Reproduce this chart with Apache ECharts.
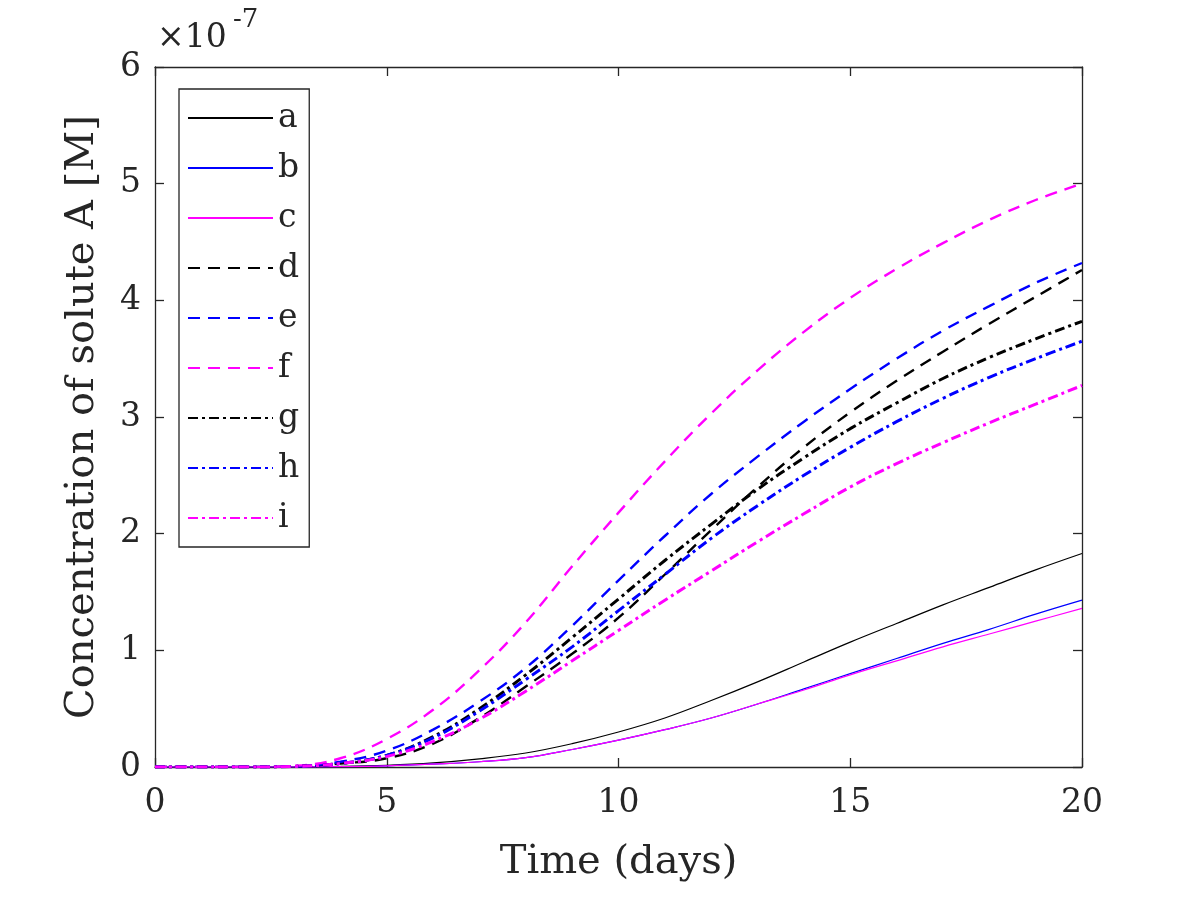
<!DOCTYPE html>
<html>
<head>
<meta charset="utf-8">
<script src="https://cdn.jsdelivr.net/npm/echarts@6/dist/echarts.min.js"></script>
<style>
  html, body { margin: 0; padding: 0; background: #fff; }
  #main { width: 1196px; height: 897px; }
</style>
</head>
<body>
<div id="main"></div>
<script>
// time axis (days) and concentrations (x 1e-7 M)
var days = [0, 1, 2, 3, 4, 5, 6, 7, 8, 9, 10, 11, 12, 13, 14, 15, 16, 17, 18, 19, 20];
var serA = [0, 0, 0, 0.001, 0.005, 0.015, 0.035, 0.07, 0.12, 0.20, 0.30, 0.42, 0.57, 0.73, 0.90, 1.07, 1.23, 1.39, 1.54, 1.69, 1.83];
var serB = [0, 0, 0, 0, 0.003, 0.01, 0.025, 0.045, 0.08, 0.15, 0.23, 0.32, 0.42, 0.54, 0.67, 0.80, 0.93, 1.06, 1.18, 1.31, 1.43];
var serC = [0, 0, 0, 0, 0.003, 0.01, 0.025, 0.045, 0.08, 0.15, 0.23, 0.32, 0.42, 0.54, 0.66, 0.79, 0.91, 1.03, 1.14, 1.25, 1.36];
var serD = [0, 0, 0, 0.005, 0.03, 0.075, 0.20, 0.42, 0.69, 0.97, 1.28, 1.65, 2.03, 2.40, 2.74, 3.04, 3.31, 3.56, 3.80, 4.03, 4.26];
var serE = [0, 0, 0, 0.005, 0.045, 0.14, 0.32, 0.56, 0.85, 1.21, 1.60, 1.98, 2.34, 2.66, 2.96, 3.24, 3.50, 3.74, 3.95, 4.15, 4.32];
var serF = [0, 0, 0, 0.01, 0.075, 0.24, 0.49, 0.83, 1.24, 1.72, 2.18, 2.62, 3.03, 3.40, 3.73, 4.02, 4.27, 4.49, 4.69, 4.86, 5.00];
var serG = [0, 0, 0, 0.005, 0.03, 0.10, 0.26, 0.50, 0.79, 1.11, 1.44, 1.77, 2.08, 2.38, 2.65, 2.90, 3.12, 3.33, 3.51, 3.67, 3.82];
var serH = [0, 0, 0, 0.005, 0.03, 0.10, 0.25, 0.48, 0.75, 1.03, 1.34, 1.65, 1.96, 2.24, 2.50, 2.74, 2.96, 3.16, 3.34, 3.50, 3.65];
var serI = [0, 0, 0, 0.005, 0.03, 0.09, 0.22, 0.41, 0.65, 0.91, 1.17, 1.43, 1.68, 1.93, 2.17, 2.40, 2.60, 2.78, 2.95, 3.11, 3.27];
var names = ['a', 'b', 'c', 'd', 'e', 'f', 'g', 'h', 'i'];
var xTicks = [0, 5, 10, 15, 20];
var yTicks = [0, 1, 2, 3, 4, 5, 6];

var FONT = 'DejaVu Serif';
var AX = '#262626';
var colors = ['#000000', '#0000ff', '#ff00ff'];
var styles = [
  { type: 'solid', width: 1.2 },
  { type: [12, 8], width: 2.4 },
  { type: [10, 4, 3, 4], width: 3 }
];
var allData = [serA, serB, serC, serD, serE, serF, serG, serH, serI];

var series = allData.map(function (vals, k) {
  var st = styles[Math.floor(k / 3)];
  return {
    name: names[k],
    type: 'line',
    data: days.map(function (d, j) { return [d, vals[j]]; }),
    smooth: 0.4,
    symbol: 'none',
    color: colors[k % 3],
    lineStyle: { color: colors[k % 3], width: st.width, type: st.type, cap: 'butt' },
    emphasis: { disabled: true },
    xAxisIndex: 0,
    yAxisIndex: 0
  };
});

function axisBase(extra) {
  var base = {
    type: 'value',
    axisLine: { show: true, onZero: false, lineStyle: { color: AX, width: 1.3 } },
    axisTick: { show: true, inside: true, length: 9, lineStyle: { color: AX, width: 1.3 } },
    splitLine: { show: false },
    axisLabel: { show: false }
  };
  for (var k in extra) base[k] = extra[k];
  return base;
}

var chart = echarts.init(document.getElementById('main'), null, { renderer: 'canvas' });
chart.setOption({
  animation: false,
  backgroundColor: '#ffffff',
  grid: { left: 155, right: 114, top: 67, bottom: 130, containLabel: false },
  legend: {
    orient: 'vertical',
    left: 179,
    top: 89,
    data: names,
    itemWidth: 85,
    itemHeight: 14,
    itemGap: 10,
    padding: [9, 10, 9, 8],
    borderColor: AX,
    borderWidth: 1.3,
    backgroundColor: '#ffffff',
    selectedMode: false,
    itemStyle: { opacity: 0 },
    textStyle: { fontFamily: FONT, fontSize: 33, color: AX, lineHeight: 40 }
  },
  xAxis: [
    axisBase({
      min: xTicks[0], max: xTicks[xTicks.length - 1], interval: xTicks[1] - xTicks[0],
      position: 'bottom',
      axisLabel: { show: true, fontFamily: FONT, fontSize: 33, color: AX, margin: 20 },
      name: 'Time (days)', nameLocation: 'middle', nameGap: 76,
      nameTextStyle: { fontFamily: FONT, fontSize: 40, color: AX }
    }),
    axisBase({
      min: xTicks[0], max: xTicks[xTicks.length - 1], interval: xTicks[1] - xTicks[0],
      position: 'top'
    })
  ],
  yAxis: [
    axisBase({
      min: yTicks[0], max: yTicks[yTicks.length - 1], interval: 1,
      position: 'left',
      axisLabel: { show: true, fontFamily: FONT, fontSize: 33, color: AX, margin: 14 },
      name: 'Concentration of solute A [M]', nameLocation: 'middle', nameGap: 52,
      nameTextStyle: { fontFamily: FONT, fontSize: 40, color: AX }
    }),
    axisBase({
      min: yTicks[0], max: yTicks[yTicks.length - 1], interval: 1,
      position: 'right'
    })
  ],
  graphic: [
    { type: 'text', left: 157, top: 22, style: { text: '×10', font: '33px "DejaVu Serif"', fill: AX } },
    { type: 'text', left: 233, top: 7, style: { text: '-7', font: '26px "DejaVu Serif"', fill: AX } }
  ],
  series: series
});
</script>
</body>
</html>
